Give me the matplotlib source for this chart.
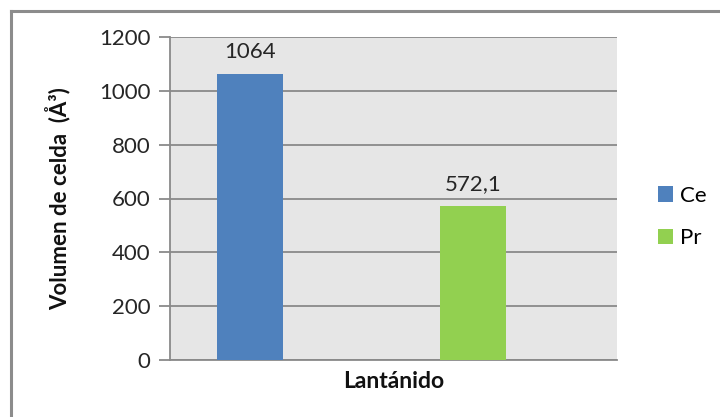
import matplotlib
matplotlib.use("Agg")
import matplotlib.pyplot as plt
from matplotlib.lines import Line2D
from matplotlib.patches import Patch

# Unit cell volume per lanthanide
series = ["Ce", "Pr"]
values = [1064, 572.1]
value_labels = ["1064", "572,1"]
colors = ["#4f81bd", "#92d050"]
y_ticks = [0, 200, 400, 600, 800, 1000, 1200]

plt.rcParams["font.family"] = ["Lato", "DejaVu Sans"]

W, H = 720, 417
fig = plt.figure(figsize=(W / 100, H / 100), dpi=100)
fig.patch.set_facecolor("white")

ax = fig.add_axes([170 / W, (H - 360) / H, 447 / W, 323 / H])
ax.set_facecolor("#e6e6e6")

positions = [0, 1]
bar_w = 0.296
ax.bar(positions, values, width=bar_w, color=colors, zorder=3)

for x, v, lab in zip(positions, values, value_labels):
    ax.annotate(lab, (x, v), xytext=(0, 11.5), textcoords="offset points",
                ha="center", va="baseline", fontsize=16, color="#262626")

ax.set_ylim(0, 1200)
ax.set_xlim(-0.359, 1.646)
ax.set_yticks(y_ticks)
ax.set_yticklabels([str(t) for t in y_ticks], fontsize=16, color="#262626")
ax.set_xticks([])
ax.yaxis.grid(True, color="#8a8a8a", linewidth=1.3, zorder=0)
ax.set_axisbelow(True)
ax.tick_params(axis="y", length=8, width=1.3, color="#8a8a8a", pad=6)

for side in ("top", "right"):
    ax.spines[side].set_visible(False)
for side in ("left", "bottom"):
    ax.spines[side].set_color("#8a8a8a")
    ax.spines[side].set_linewidth(1.3)

ax.set_ylabel("Volumen de celda  (Å³)", fontsize=16, fontweight="bold",
              color="#111111")
ax.yaxis.set_label_coords(-0.222, 0.5)
ax.set_xlabel("Lantánido", fontsize=16.5, fontweight="bold", color="#111111")
ax.xaxis.set_label_coords(0.5, -0.035)

handles = [Patch(facecolor=c, edgecolor="none") for c in colors]
fig.legend(handles, series, loc="center left",
           bbox_to_anchor=(658 / W, 1 - 217 / H), frameon=False,
           fontsize=16, handlelength=0.68, handleheight=0.68,
           handletextpad=0.3, labelspacing=1.0, borderpad=0, borderaxespad=0)

# Outer chart frame
frame_kw = dict(color="#8c8c8c", linewidth=2.2, transform=fig.transFigure)
fig.add_artist(Line2D([10.5 / W, 10.5 / W], [0, 1 - 10.5 / H], **frame_kw))
fig.add_artist(Line2D([10.5 / W, 1], [1 - 10.5 / H, 1 - 10.5 / H], **frame_kw))

fig.savefig("out.png", dpi=100)
